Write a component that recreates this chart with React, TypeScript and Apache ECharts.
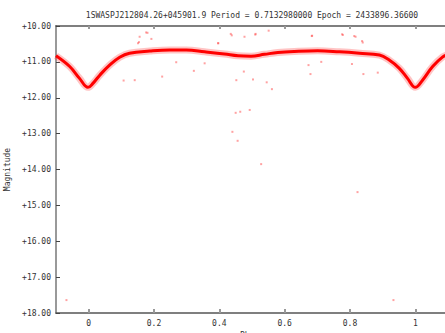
import React, { useEffect, useRef } from "react";
import * as echarts from "echarts";

const TITLE = "1SWASPJ212804.26+045901.9 Period = 0.7132980000 Epoch = 2433896.36600";
const X_TICKS = [0, 0.2, 0.4, 0.6, 0.8, 1];

// Dense light-curve band (phase, magnitude)
const bandPhase = [-0.1, -0.058, -0.028, -0.002, 0.013, 0.034, 0.064, 0.095, 0.125, 0.187, 0.248, 0.299, 0.355, 0.416, 0.457, 0.497, 0.538, 0.579, 0.63, 0.701, 0.768, 0.829, 0.89, 0.92, 0.951, 0.976, 1.0, 1.022, 1.053, 1.084, 1.1];
const bandMag = [10.83, 11.13, 11.46, 11.71, 11.6, 11.37, 11.09, 10.87, 10.76, 10.70, 10.67, 10.67, 10.72, 10.78, 10.83, 10.84, 10.79, 10.74, 10.71, 10.69, 10.72, 10.76, 10.81, 10.95, 11.18, 11.46, 11.71, 11.51, 11.13, 10.86, 10.80];

// Scattered individual measurements
const outPhase = [0.45, 0.464, 0.44, 0.456, 0.493, 0.528, 0.823, -0.068, 0.933,
  0.154, 0.176, 0.192, 0.397, 0.435, 0.511, 0.551, 0.684, 0.776, 0.837, 0.813,
  0.156, 0.151, 0.18, 0.107, 0.141, 0.225, 0.268,
  0.438, 0.477, 0.51, 0.396, 0.322, 0.452, 0.503, 0.545, 0.561, 0.475, 0.683, 0.679, 0.673, 0.355,
  0.778, 0.817, 0.839, 0.712, 0.841, 0.885, 0.806];
const outMag = [12.42, 12.39, 12.95, 13.2, 12.34, 13.85, 14.63, 17.64, 17.64,
  10.45, 10.18, 10.36, 10.48, 10.22, 10.22, 10.13, 10.27, 10.23, 10.42, 10.28,
  10.30, 10.48, 10.19, 11.52, 11.51, 11.41, 11.01,
  10.26, 10.30, 10.24, 10.48, 11.25, 11.51, 11.49, 11.57, 11.76, 11.27, 10.28, 11.34, 11.09, 11.04,
  10.25, 10.30, 10.46, 11.0, 11.34, 11.30, 11.06];

const FONT = "DejaVu Sans Mono";

export default function App() {
  const ref = useRef<HTMLDivElement>(null);
  useEffect(() => {
    if (!ref.current) return;
    const chart = echarts.init(ref.current, null, { renderer: "svg" });
    const band = bandPhase.map((p, i) => [p, bandMag[i]]);
    const outliers = outPhase.map((p, i) => [p, outMag[i]]);
    chart.setOption({
      animation: false,
      backgroundColor: "#ffffff",
      grid: { left: 56, top: 26, width: 392, height: 287, outerBoundsMode: "none", containLabel: false },
      graphic: [
        {
          type: "text",
          x: 252,
          y: 15,
          style: {
            text: TITLE,
            font: `8px "${FONT}"`,
            fill: "#333",
            textAlign: "center",
            textVerticalAlign: "middle",
          },
        },
      ],
      xAxis: [
        {
          type: "value",
          position: "bottom",
          min: -0.1,
          max: 1.1,
          splitLine: { show: false },
          axisLine: { show: true, onZero: false, lineStyle: { color: "#555", width: 1.5 } },
          axisTick: { show: true, inside: true, length: 4, customValues: X_TICKS, lineStyle: { color: "#999", width: 2 } },
          axisLabel: {
            customValues: X_TICKS,
            margin: 6,
            fontFamily: FONT,
            fontSize: 8,
            color: "#333",
            formatter: (v: number) => String(Math.round(v * 10) / 10),
          },
          name: "Phase",
          nameLocation: "middle",
          nameGap: 15,
          nameTextStyle: { fontFamily: FONT, fontSize: 8, color: "#333" },
        },
        {
          type: "value",
          position: "top",
          min: -0.1,
          max: 1.1,
          splitLine: { show: false },
          axisLine: { show: true, onZero: false, lineStyle: { color: "#555", width: 1.5 } },
          axisTick: { show: true, inside: true, length: 3, customValues: X_TICKS, lineStyle: { color: "#999", width: 2 } },
          axisLabel: { show: false },
        },
      ],
      yAxis: {
        type: "value",
        inverse: true,
        min: 10,
        max: 18,
        interval: 1,
        splitLine: { show: false },
        axisLine: { show: true, onZero: false, lineStyle: { color: "#999", width: 2 } },
        axisTick: { show: true, inside: true, length: 4, lineStyle: { color: "#444", width: 1 } },
        axisLabel: {
          margin: 5,
          fontFamily: FONT,
          fontSize: 8,
          color: "#333",
          formatter: (v: number) => "+" + v.toFixed(2),
        },
        name: "Magnitude",
        nameLocation: "middle",
        nameRotate: 90,
        nameGap: 40,
        nameTextStyle: { fontFamily: FONT, fontSize: 8, color: "#333" },
      },
      series: [
        {
          type: "line",
          data: band,
          showSymbol: false,
          smooth: 0.4,
          silent: true,
          lineStyle: { color: "rgba(255,60,60,0.3)", width: 7 },
        },
        {
          type: "line",
          data: band,
          showSymbol: false,
          smooth: 0.4,
          silent: true,
          lineStyle: { color: "#ff0000", width: 3 },
        },
        {
          type: "scatter",
          data: outliers,
          symbol: "rect",
          symbolSize: 2,
          itemStyle: { color: "rgba(255,60,60,0.6)" },
        },
      ],
    });
    return () => chart.dispose();
  }, []);
  return (
    <div
      ref={ref}
      style={{ position: "fixed", left: 0, top: 0, width: 445, height: 333, background: "#fff" }}
    />
  );
}
